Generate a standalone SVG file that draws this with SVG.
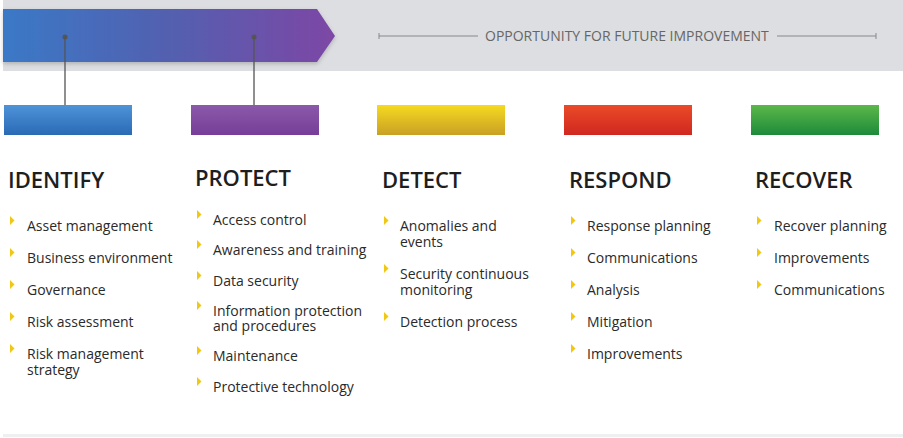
<svg xmlns="http://www.w3.org/2000/svg" width="903" height="438" viewBox="0 0 903 438">
<defs>
<linearGradient id="gArrow" x1="0" y1="0" x2="1" y2="0">
<stop offset="0" stop-color="#3a79c6"/><stop offset="0.5" stop-color="#5360b0"/><stop offset="1" stop-color="#7d47a5"/>
</linearGradient>
<linearGradient id="gBlue" x1="0" y1="0" x2="0" y2="1"><stop offset="0" stop-color="#4e93d8"/><stop offset="1" stop-color="#2a6ab5"/></linearGradient>
<linearGradient id="gPurple" x1="0" y1="0" x2="0" y2="1"><stop offset="0" stop-color="#8a5aaa"/><stop offset="1" stop-color="#773d98"/></linearGradient>
<linearGradient id="gYellow" x1="0" y1="0" x2="0" y2="1"><stop offset="0" stop-color="#f6da20"/><stop offset="1" stop-color="#c9a024"/></linearGradient>
<linearGradient id="gRed" x1="0" y1="0" x2="0" y2="1"><stop offset="0" stop-color="#ea4a28"/><stop offset="1" stop-color="#d02820"/></linearGradient>
<linearGradient id="gGreen" x1="0" y1="0" x2="0" y2="1"><stop offset="0" stop-color="#5cb84a"/><stop offset="1" stop-color="#1d8a3a"/></linearGradient>
<filter id="sh" x="-5%" y="-20%" width="110%" height="150%"><feDropShadow dx="0" dy="2" stdDeviation="2" flood-color="#000" flood-opacity="0.2"/></filter>
<polygon id="bul" points="0,0 4.5,4.5 0,9" fill="#f0c814"/>
</defs>
<style>
.h{font-family:"Open Sans","Liberation Sans",sans-serif;font-size:22px;font-weight:600;fill:#1e1e1e}
.t{font-family:"Open Sans","Liberation Sans",sans-serif;font-size:14px;fill:#2a2a2a}
.op{font-family:"Open Sans","Liberation Sans",sans-serif;font-size:14px;fill:#666}
.ln{stroke:#555;stroke-width:1.3;fill:none}
.gl{stroke:#888;stroke-width:1;fill:none}
</style>
<rect width="903" height="438" fill="#fff"/>
<rect x="3" y="0" width="900" height="71" fill="#dcdee1"/>
<polygon points="3,9 317,9 335,36 317,62 3,62" fill="url(#gArrow)" filter="url(#sh)"/>
<g id="opportunity">
<path class="gl" d="M379,36 H478 M379,33 V39 M777,36 H876 M876,33 V39"/>
<text class="op" x="485" y="41">OPPORTUNITY FOR FUTURE IMPROVEMENT</text>
</g>
<g id="connectors">
<circle cx="65" cy="37" r="2.5" fill="#555"/>
<circle cx="254" cy="37" r="2.5" fill="#555"/>
<path class="ln" d="M65,37 V106 M254,37 V106"/>
</g>
<g id="identify">
<rect x="4" y="105" width="128" height="30" fill="url(#gBlue)"/>
<text class="h" x="8" y="188">IDENTIFY</text>
<use href="#bul" x="10" y="216"/><text class="t" x="27" y="231">Asset management</text>
<use href="#bul" x="10" y="248"/><text class="t" x="27" y="263">Business environment</text>
<use href="#bul" x="10" y="280"/><text class="t" x="27" y="295">Governance</text>
<use href="#bul" x="10" y="312"/><text class="t" x="27" y="327">Risk assessment</text>
<use href="#bul" x="10" y="344"/><text class="t" x="27" y="359">Risk management<tspan x="27" dy="16">strategy</tspan></text>
</g>
<g id="protect">
<rect x="191" y="105" width="128" height="30" fill="url(#gPurple)"/>
<text class="h" x="195" y="186">PROTECT</text>
<use href="#bul" x="197" y="210"/><text class="t" x="213" y="225">Access control</text>
<use href="#bul" x="197" y="240"/><text class="t" x="213" y="255">Awareness and training</text>
<use href="#bul" x="197" y="271"/><text class="t" x="213" y="286">Data security</text>
<use href="#bul" x="197" y="301"/><text class="t" x="213" y="316">Information protection<tspan x="213" dy="15">and procedures</tspan></text>
<use href="#bul" x="197" y="346"/><text class="t" x="213" y="361">Maintenance</text>
<use href="#bul" x="197" y="377"/><text class="t" x="213" y="392">Protective technology</text>
</g>
<g id="detect">
<rect x="377" y="105" width="128" height="30" fill="url(#gYellow)"/>
<text class="h" x="382" y="188">DETECT</text>
<use href="#bul" x="384" y="216"/><text class="t" x="400" y="231">Anomalies and<tspan x="400" dy="16">events</tspan></text>
<use href="#bul" x="384" y="264"/><text class="t" x="400" y="279">Security continuous<tspan x="400" dy="16">monitoring</tspan></text>
<use href="#bul" x="384" y="312"/><text class="t" x="400" y="327">Detection process</text>
</g>
<g id="respond">
<rect x="564" y="105" width="128" height="30" fill="url(#gRed)"/>
<text class="h" x="569" y="188">RESPOND</text>
<use href="#bul" x="571" y="216"/><text class="t" x="587" y="231">Response planning</text>
<use href="#bul" x="571" y="248"/><text class="t" x="587" y="263">Communications</text>
<use href="#bul" x="571" y="280"/><text class="t" x="587" y="295">Analysis</text>
<use href="#bul" x="571" y="312"/><text class="t" x="587" y="327">Mitigation</text>
<use href="#bul" x="571" y="344"/><text class="t" x="587" y="359">Improvements</text>
</g>
<g id="recover">
<rect x="751" y="105" width="128" height="30" fill="url(#gGreen)"/>
<text class="h" x="755" y="188">RECOVER</text>
<use href="#bul" x="757" y="216"/><text class="t" x="774" y="231">Recover planning</text>
<use href="#bul" x="757" y="248"/><text class="t" x="774" y="263">Improvements</text>
<use href="#bul" x="757" y="280"/><text class="t" x="774" y="295">Communications</text>
</g>
<rect x="3" y="434" width="900" height="3" fill="#eeeff0"/>
</svg>
